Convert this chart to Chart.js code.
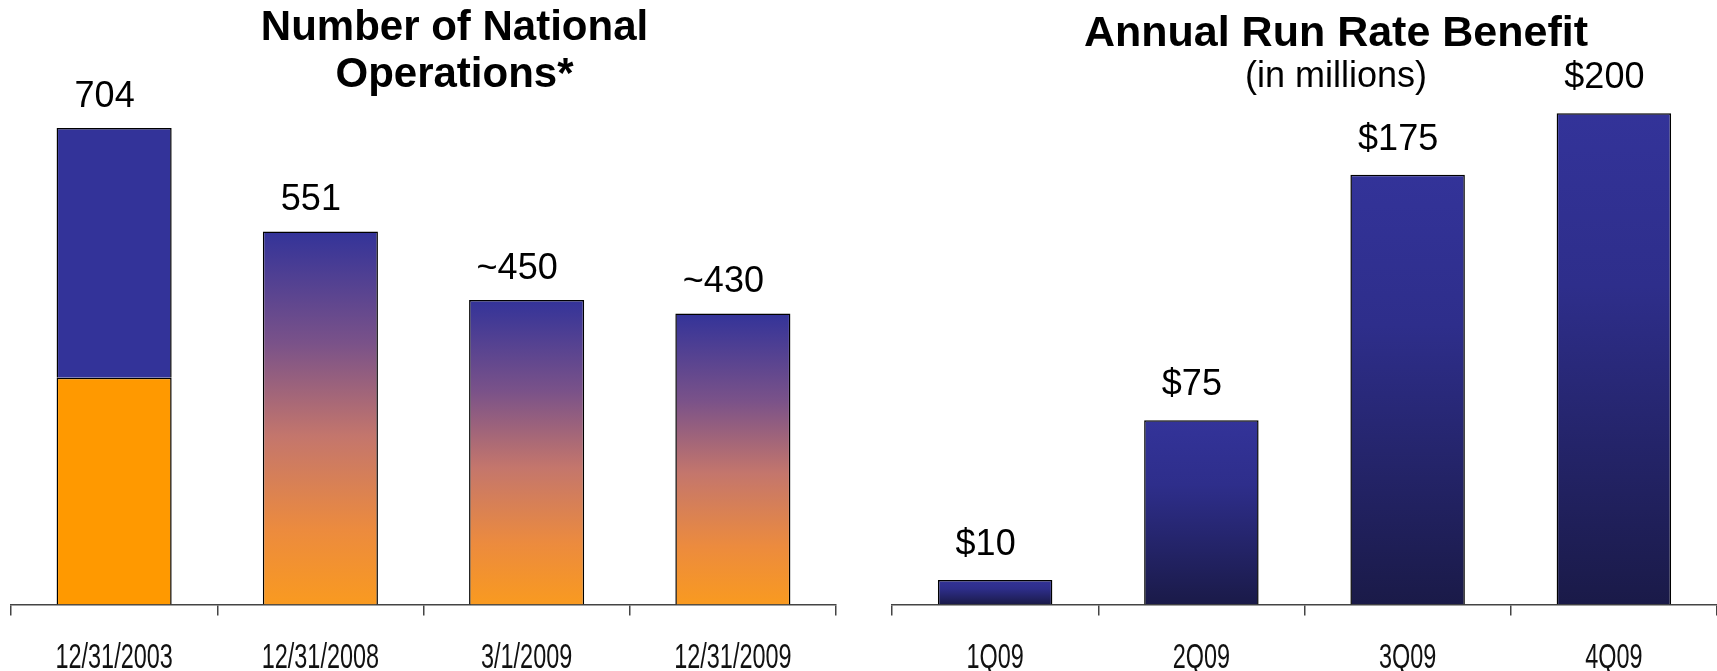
<!DOCTYPE html>
<html>
<head>
<meta charset="utf-8">
<script src="https://cdn.jsdelivr.net/npm/chart.js@4.4.1/dist/chart.umd.min.js"></script>
<style>
    html, body { margin: 0; padding: 0; background: #fff; overflow: hidden; }
    #wrap { position: relative; width: 1717px; height: 671px; }
    canvas { position: absolute; top: 0; }
    #opsChart { left: 0; }
    #benefitChart { left: 860px; }
</style>
</head>
<body>
<div id="wrap">
    <canvas id="opsChart" width="860" height="671"></canvas>
    <canvas id="benefitChart" width="857" height="671"></canvas>
</div>
<script>
// Left chart data
const opsCategories = ['12/31/2003', '12/31/2008', '3/1/2009', '12/31/2009'];
const opsLower = [335, 551, 450, 430];      // orange part (whole bar for 2008/2009)
const opsUpper = [369, null, null, null];   // blue top of the 2003 bar (total 704)
const opsLabels = ['704', '551', '~450', '~430'];
const opsTitle = ['Number of National', 'Operations*'];

// Right chart data
const benefitCategories = ['1Q09', '2Q09', '3Q09', '4Q09'];
const benefitValues = [10, 75, 175, 200];
const benefitLabels = ['$10', '$75', '$175', '$200'];
const benefitTitle = 'Annual Run Rate Benefit';
const benefitSubtitle = '(in millions)';

const SANS = '"Liberation Sans", Arial, Helvetica, sans-serif';

// gradient from top of each bar down to the baseline
function barGradient(stops) {
    return function (c) {
        const chart = c.chart;
        if (!chart.chartArea || c.raw == null) return stops[0][1];
        const y = chart.scales.y;
        const top = y.getPixelForValue(Number(c.raw));
        const base = y.getPixelForValue(0);
        const g = chart.ctx.createLinearGradient(0, top, 0, base);
        stops.forEach(s => g.addColorStop(s[0], s[1]));
        return g;
    };
}

const sunsetGradient = barGradient([
    [0, '#333399'],
    [0.3, '#7a5289'],
    [0.55, '#c4766c'],
    [0.8, '#ec8b3e'],
    [1, '#f99a20']
]);
const navyGradient = barGradient([
    [0, '#333399'],
    [0.35, '#2e2e8b'],
    [1, '#1a1a48']
]);

// value labels above the top of each stack
const valueLabels = {
    id: 'valueLabels',
    afterDatasetsDraw(chart, args, opts) {
        const ctx = chart.ctx;
        ctx.save();
        ctx.font = '36px ' + SANS;
        ctx.fillStyle = '#000';
        ctx.textAlign = 'center';
        ctx.textBaseline = 'middle';
        opts.labels.forEach((text, i) => {
            let top = Infinity, x = 0;
            chart.data.datasets.forEach((ds, d) => {
                if (ds.data[i] == null) return;
                const el = chart.getDatasetMeta(d).data[i];
                if (el.y < top) { top = el.y; x = el.x; }
            });
            ctx.fillText(text, x + opts.dx, top - opts.dy);
        });
        ctx.restore();
    }
};

// category labels in a condensed face (no narrow font installed, so squeeze it)
const condensedTicks = {
    id: 'condensedTicks',
    afterDraw(chart, args, opts) {
        const ctx = chart.ctx;
        const xs = chart.scales.x;
        ctx.save();
        ctx.font = opts.size + 'px ' + SANS;
        ctx.fillStyle = '#111';
        ctx.textAlign = 'center';
        ctx.textBaseline = 'alphabetic';
        xs.ticks.forEach((t, i) => {
            ctx.save();
            ctx.translate(xs.getPixelForTick(i), xs.top + opts.baseline);
            ctx.scale(opts.stretch, 1);
            ctx.fillText(xs.getLabelForValue(t.value), 0, 0);
            ctx.restore();
        });
        ctx.restore();
    }
};

// headings drawn over the plot, offset a little right of the plot centre
const headings = {
    id: 'headings',
    afterDraw(chart, args, opts) {
        const ctx = chart.ctx;
        const cx = (chart.chartArea.left + chart.chartArea.right) / 2 + opts.shift;
        ctx.save();
        ctx.fillStyle = '#000';
        ctx.textAlign = 'center';
        ctx.textBaseline = 'alphabetic';
        opts.lines.forEach(line => {
            ctx.font = line.font;
            ctx.fillText(line.text, cx, line.y);
        });
        ctx.restore();
    }
};

function xAxis(labels) {
    return {
        type: 'category',
        labels: labels,
        offset: true,
        stacked: true,
        grid: {
            offset: true,
            drawOnChartArea: false,
            drawTicks: true,
            tickLength: 11,
            color: '#444',
            lineWidth: 1.5
        },
        border: { display: true, color: '#444', width: 1.5 },
        ticks: { display: false, autoSkip: false }
    };
}

// Number of National Operations
const opsCtx = document.getElementById('opsChart').getContext('2d');
const opsChart = new Chart(opsCtx, {
    type: 'bar',
    data: {
        labels: opsCategories,
        datasets: [{
            data: opsLower,
            backgroundColor: c => c.dataIndex === 0 ? '#ff9900' : sunsetGradient(c),
            borderColor: '#000',
            borderWidth: 1.5,
            barPercentage: 0.558,
            categoryPercentage: 1
        }, {
            data: opsUpper,
            backgroundColor: '#333399',
            borderColor: '#000',
            borderWidth: 1.5,
            barPercentage: 0.558,
            categoryPercentage: 1
        }]
    },
    options: {
        responsive: false,
        animation: false,
        layout: { padding: { left: 11, right: 24, top: 63, bottom: 55.5 } },
        plugins: {
            legend: { display: false },
            tooltip: { enabled: false },
            valueLabels: { labels: opsLabels, dx: -9.5, dy: 31 },
            condensedTicks: { size: 35, stretch: 0.67, baseline: 63.5 },
            headings: {
                shift: 31,
                lines: [
                    { text: opsTitle[0], y: 40, font: 'bold 42px ' + SANS },
                    { text: opsTitle[1], y: 87, font: 'bold 42px ' + SANS }
                ]
            }
        },
        scales: {
            x: xAxis(opsCategories),
            y: { display: false, stacked: true, min: 0, max: 800 }
        }
    },
    plugins: [valueLabels, condensedTicks, headings]
});

// Annual Run Rate Benefit
const benefitCtx = document.getElementById('benefitChart').getContext('2d');
const benefitChart = new Chart(benefitCtx, {
    type: 'bar',
    data: {
        labels: benefitCategories,
        datasets: [{
            data: benefitValues,
            backgroundColor: navyGradient,
            borderColor: '#000',
            borderWidth: 1.5,
            barPercentage: 0.555,
            categoryPercentage: 1
        }]
    },
    options: {
        responsive: false,
        animation: false,
        layout: { padding: { left: 32, right: 0, top: 15, bottom: 55.5 } },
        plugins: {
            legend: { display: false },
            tooltip: { enabled: false },
            valueLabels: { labels: benefitLabels, dx: -9.5, dy: 35 },
            condensedTicks: { size: 35, stretch: 0.67, baseline: 63.5 },
            headings: {
                shift: 31.5,
                lines: [
                    { text: benefitTitle, y: 46, font: 'bold 43px ' + SANS },
                    { text: benefitSubtitle, y: 87, font: '36px ' + SANS }
                ]
            }
        },
        scales: {
            x: xAxis(benefitCategories),
            y: { display: false, min: 0, max: 240 }
        }
    },
    plugins: [valueLabels, condensedTicks, headings]
});
</script>
</body>
</html>
